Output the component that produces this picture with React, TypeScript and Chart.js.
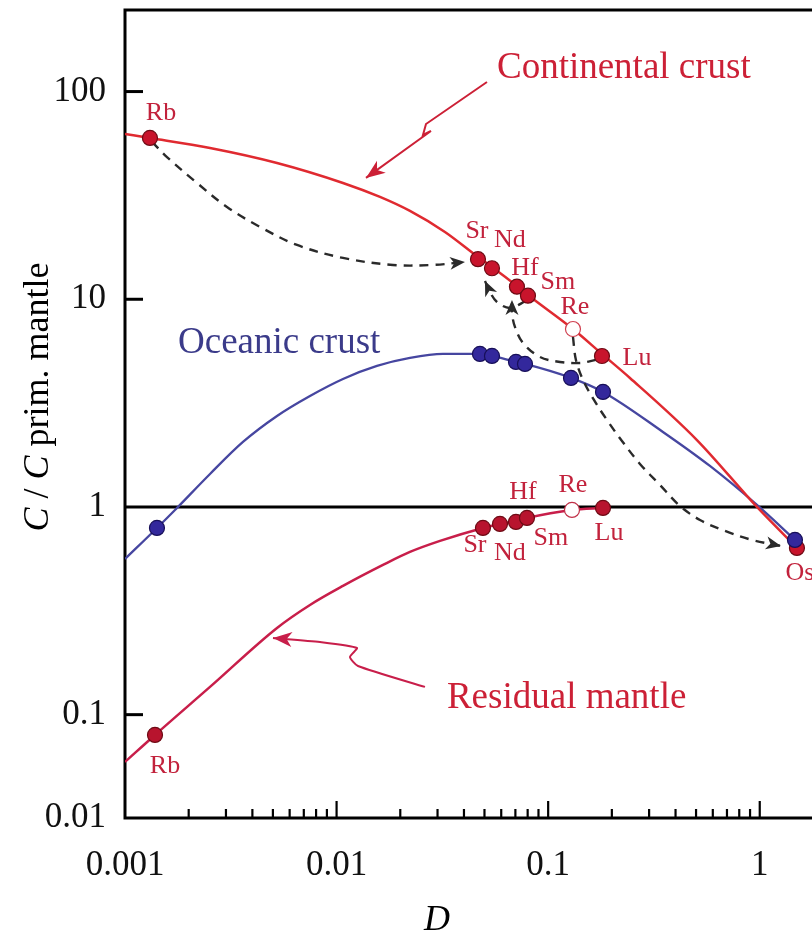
import React, { useEffect, useRef } from 'react';
import { Chart, registerables } from 'chart.js';

Chart.register(...registerables);

const SERIF = '"Liberation Serif", "Times New Roman", serif';

// ---------- axes ----------
const xMin = 0.001;
const xMax = 1.766;
const yMin = 0.0318; // bottom of the (truncated) axis, labelled "0.01" in the figure
const yMax = 247;
const xTickValues = [0.001, 0.01, 0.1, 1];
const xTickLabels = ['0.001', '0.01', '0.1', '1'];
const yTickValues = [0.0318, 0.1, 1, 10, 100];
const yTickLabels = ['0.01', '0.1', '1', '10', '100'];
const yMajorMarks = [0.1, 10, 100];
const xMajorMarks = [0.01, 0.1, 1];
const xMinorDecades = [0.001, 0.01, 0.1];
const xMinorMultipliers = [2, 3, 4, 5, 6, 7, 8, 9];
const referenceLine = 1;

// ---------- curves ----------
const contCurveD = [0.001, 0.001312, 0.002522, 0.00523, 0.01072, 0.01604, 0.02222, 0.03252, 0.04659, 0.05425, 0.0712, 0.08026, 0.131, 0.1796, 0.2435, 0.5049, 0.9701, 1.499];
const contCurveC = [62.5, 59.8, 53.5, 45.3, 36.3, 31.09, 26.62, 21.09, 15.99, 14.31, 11.59, 10.49, 7.19, 5.453, 4.179, 2.1, 1.0, 0.635];

const oceanCurveD = [0.001, 0.001416, 0.001723, 0.002522, 0.00361, 0.00523, 0.007486, 0.01072, 0.01552, 0.02222, 0.03183, 0.04761, 0.05425, 0.07045, 0.0777, 0.1282, 0.1816, 0.3487, 0.5815, 0.9701, 1.467];
const oceanCurveC = [0.5617, 0.7922, 0.9673, 1.442, 2.056, 2.743, 3.422, 4.133, 4.774, 5.216, 5.453, 5.453, 5.333, 4.99, 4.88, 4.18, 3.578, 2.297, 1.5755, 1.0224, 0.694];

const residCurveD = [0.001, 0.001386, 0.002522, 0.00523, 0.007486, 0.01072, 0.01657, 0.02222, 0.03082, 0.04918, 0.05919, 0.07045, 0.0794, 0.1296, 0.1816];
const residCurveC = [0.0592, 0.07985, 0.136, 0.2615, 0.3374, 0.4166, 0.5257, 0.6071, 0.6861, 0.7923, 0.8282, 0.8562, 0.8851, 0.9673, 0.989];

// ---------- element points ----------
const contElements = ['Rb', 'Sr', 'Nd', 'Hf', 'Sm', 'Re', 'Lu', 'Os'];
const contPointD = [0.001312, 0.04659, 0.05425, 0.0712, 0.08026, 0.131, 0.1796, 1.499];
const contPointC = [59.8, 15.6, 14.1, 11.5, 10.4, 7.19, 5.33, 0.635];

const oceanElements = ['Rb', 'Sr', 'Nd', 'Hf', 'Sm', 'Re', 'Lu', 'Os'];
const oceanPointD = [0.001416, 0.04761, 0.05425, 0.07045, 0.0777, 0.1282, 0.1816, 1.467];
const oceanPointC = [0.7922, 5.453, 5.333, 4.99, 4.88, 4.18, 3.578, 0.694];

const residElements = ['Rb', 'Sr', 'Nd', 'Hf', 'Sm', 'Re', 'Lu'];
const residPointD = [0.001386, 0.04918, 0.05919, 0.07045, 0.0794, 0.1296, 0.1816];
const residPointC = [0.07985, 0.7923, 0.8282, 0.8467, 0.8851, 0.9673, 0.989];

const openElement = 'Re';

// ---------- dashed parent -> daughter arrows ----------
const rbSrArrowD = [0.001342, 0.001579, 0.002189, 0.003034, 0.004345, 0.0065, 0.01072, 0.01847, 0.02855, 0.04044];
const rbSrArrowC = [57.2, 48.4, 36.3, 27.8, 22.3, 18.26, 15.81, 14.63, 14.63, 15.12];
const luHfArrowD = [0.1682, 0.1414, 0.1137, 0.09147, 0.07601, 0.06967, 0.06745, 0.06745];
const luHfArrowC = [5.104, 4.935, 4.99, 5.276, 6.16, 7.356, 8.59, 9.922];
const smNdArrowD = [0.07855, 0.06599, 0.05728, 0.05308, 0.05028];
const smNdArrowC = [9.813, 9.08, 9.705, 10.84, 12.25];
const reOsArrowD = [0.131, 0.1353, 0.1461, 0.1646, 0.1896, 0.2233, 0.2715, 0.3376, 0.4197, 0.5218, 0.6847, 0.9186, 1.2597];
const reOsArrowC = [6.584, 5.104, 4.088, 3.275, 2.624, 2.078, 1.611, 1.276, 1.011, 0.8658, 0.7665, 0.6937, 0.6491];

// ---------- label pointer arrows ----------
const contPointerD = [0.05139, 0.02646, 0.02561, 0.02793, 0.01377];
const contPointerC = [111.2, 69.8, 61.8, 64.6, 38.4];
const residPointerD = [0.02617, 0.01262, 0.01157, 0.01248, 0.008346, 0.005005];
const residPointerC = [0.136, 0.1716, 0.1896, 0.2095, 0.2239, 0.234];

// ---------- text ----------
const contLabelText = ['Rb', 'Sr', 'Nd', 'Hf', 'Sm', 'Re', 'Lu'];
const contLabelD = [0.00148, 0.04607, 0.06599, 0.0777, 0.1112, 0.1338, 0.2628];
const contLabelC = [78.9, 21.32, 19.3, 14.15, 12.12, 9.182, 5.216];
const residLabelText = ['Rb', 'Sr', 'Nd', 'Sm', 'Hf', 'Re', 'Lu', 'Os'];
const residLabelD = [0.001545, 0.04508, 0.06599, 0.1031, 0.07601, 0.131, 0.1938, 1.549];
const residLabelC = [0.05662, 0.6561, 0.6005, 0.709, 1.181, 1.276, 0.7495, 0.481];

const seriesTitles = ['Continental crust', 'Oceanic crust', 'Residual mantle'];
const seriesTitleD = [0.05728, 0.00178, 0.03323];
const seriesTitleC = [116.3, 5.514, 0.1077];

const xAxisTitle = 'D';
const yAxisTitleParts = [
  { text: 'C', italic: true },
  { text: ' / ', italic: false },
  { text: 'C', italic: true },
  { text: ' prim. mantle', italic: false },
];

// ---------- colours ----------
const RED_LINE = '#e02a30';
const BLUE_LINE = '#4646a0';
const CRIMSON_LINE = '#c81e4a';
const RED_FILL = '#c8142c';
const RED_EDGE = '#6e0a14';
const BLUE_FILL = '#33289c';
const BLUE_EDGE = '#170f58';
const LABEL_RED = '#c2223c';
const TITLE_RED = '#cc2036';
const TITLE_BLUE = '#3b3b8a';
const DASH = '#2a2a2a';

const zip = (xs: number[], ys: number[]) => xs.map((x, i) => ({ x, y: ys[i] }));

function arrowHead(ctx: CanvasRenderingContext2D, x0: number, y0: number, x1: number, y1: number, len: number, half: number, color: string) {
  const a = Math.atan2(y1 - y0, x1 - x0);
  ctx.save();
  ctx.translate(x1, y1);
  ctx.rotate(a);
  ctx.beginPath();
  ctx.moveTo(0, 0);
  ctx.lineTo(-len, -half);
  ctx.lineTo(-len * 0.72, 0);
  ctx.lineTo(-len, half);
  ctx.closePath();
  ctx.fillStyle = color;
  ctx.fill();
  ctx.restore();
}

const decorPlugin = {
  id: 'decor',
  beforeDatasetsDraw(chart: any) {
    const { ctx, chartArea, scales } = chart;
    const { left, right, top, bottom } = chartArea;
    const xs = scales.x;
    const ys = scales.y;
    ctx.save();
    ctx.strokeStyle = '#000';
    ctx.lineCap = 'butt';
    ctx.lineWidth = 3;
    ctx.beginPath();
    ctx.moveTo(left, top - 1.5);
    ctx.lineTo(left, bottom + 1.5);
    ctx.moveTo(left, top);
    ctx.lineTo(right, top);
    ctx.moveTo(left, bottom);
    ctx.lineTo(right, bottom);
    ctx.stroke();
    const yr = ys.getPixelForValue(referenceLine);
    ctx.beginPath();
    ctx.moveTo(left, yr);
    ctx.lineTo(right, yr);
    ctx.stroke();
    yMajorMarks.forEach((v) => {
      const y = ys.getPixelForValue(v);
      ctx.beginPath();
      ctx.moveTo(left, y);
      ctx.lineTo(left + 18, y);
      ctx.stroke();
    });
    ctx.lineWidth = 2.2;
    xMinorDecades.forEach((d) => {
      xMinorMultipliers.forEach((m) => {
        const x = xs.getPixelForValue(d * m);
        ctx.beginPath();
        ctx.moveTo(x, bottom);
        ctx.lineTo(x, bottom - 9);
        ctx.stroke();
      });
    });
    xMajorMarks.forEach((v) => {
      const x = xs.getPixelForValue(v);
      ctx.beginPath();
      ctx.moveTo(x, bottom);
      ctx.lineTo(x, bottom - 17);
      ctx.stroke();
    });
    ctx.restore();
  },
  afterDatasetsDraw(chart: any) {
    const { ctx, scales } = chart;
    const xs = scales.x;
    const ys = scales.y;
    ctx.save();
    chart.data.datasets.forEach((ds: any, i: number) => {
      if (!ds.arrowHead) return;
      const pts = chart.getDatasetMeta(i).data;
      const n = pts.length;
      const a = pts[n - 2];
      const b = pts[n - 1];
      arrowHead(ctx, a.x, a.y, b.x, b.y, ds.arrowHead[0], ds.arrowHead[1], ds.borderColor);
    });
    ctx.font = `26px ${SERIF}`;
    ctx.fillStyle = LABEL_RED;
    ctx.textAlign = 'center';
    ctx.textBaseline = 'middle';
    contLabelText.forEach((t, i) => {
      ctx.fillText(t, xs.getPixelForValue(contLabelD[i]), ys.getPixelForValue(contLabelC[i]));
    });
    residLabelText.forEach((t, i) => {
      ctx.fillText(t, xs.getPixelForValue(residLabelD[i]), ys.getPixelForValue(residLabelC[i]));
    });
    ctx.textAlign = 'left';
    ctx.textBaseline = 'alphabetic';
    const titleColors = [TITLE_RED, TITLE_BLUE, TITLE_RED];
    seriesTitles.forEach((t, i) => {
      ctx.font = `37px ${SERIF}`;
      ctx.fillStyle = titleColors[i];
      ctx.fillText(t, xs.getPixelForValue(seriesTitleD[i]), ys.getPixelForValue(seriesTitleC[i]));
    });
    ctx.fillStyle = '#000';
    ctx.font = `italic 36px ${SERIF}`;
    ctx.textAlign = 'center';
    ctx.fillText(xAxisTitle, 437, 930);
    ctx.save();
    ctx.translate(48, 397);
    ctx.rotate(-Math.PI / 2);
    const fontOf = (it: boolean) => `${it ? 'italic ' : ''}36px ${SERIF}`;
    let total = 0;
    yAxisTitleParts.forEach((p) => {
      ctx.font = fontOf(p.italic);
      total += ctx.measureText(p.text).width;
    });
    let cx = -total / 2;
    ctx.textAlign = 'left';
    yAxisTitleParts.forEach((p) => {
      ctx.font = fontOf(p.italic);
      ctx.fillText(p.text, cx, 0);
      cx += ctx.measureText(p.text).width;
    });
    ctx.restore();
    ctx.restore();
  },
};

export default function App() {
  const ref = useRef<HTMLCanvasElement | null>(null);
  useEffect(() => {
    if (!ref.current) return;
    const fills = (els: string[], fill: string, open: boolean) => els.map((e) => (open && e === openElement ? '#ffffff' : fill));
    const chart = new Chart(ref.current, {
      type: 'scatter',
      data: {
        datasets: [
          {
            label: 'Oceanic crust points',
            data: zip(oceanPointD, oceanPointC),
            backgroundColor: fills(oceanElements, BLUE_FILL, false),
            borderColor: BLUE_EDGE,
            borderWidth: 1.2,
            pointRadius: 7.5,
            order: 0,
          },
          {
            label: 'Continental crust points',
            data: zip(contPointD, contPointC),
            backgroundColor: fills(contElements, RED_FILL, true),
            borderColor: contElements.map((e) => (e === openElement ? '#d04050' : RED_EDGE)),
            borderWidth: 1.2,
            pointRadius: 7.5,
            order: 1,
          },
          {
            label: 'Residual mantle points',
            data: zip(residPointD, residPointC),
            backgroundColor: fills(residElements, '#b8142e', true),
            borderColor: residElements.map((e) => (e === openElement ? '#c03048' : RED_EDGE)),
            borderWidth: 1.2,
            pointRadius: 7.5,
            order: 1,
          },
          ...[
            [rbSrArrowD, rbSrArrowC],
            [luHfArrowD, luHfArrowC],
            [smNdArrowD, smNdArrowC],
            [reOsArrowD, reOsArrowC],
          ].map(([d, c], i) => ({
            label: `arrow ${i}`,
            data: zip(d, c),
            showLine: true,
            borderColor: DASH,
            borderWidth: 2.4,
            borderDash: [9, 7],
            pointRadius: 0,
            tension: 0.35,
            order: 2,
            arrowHead: [15, 6.5],
          })),
          {
            label: 'Continental crust',
            data: zip(contCurveD, contCurveC),
            showLine: true,
            borderColor: RED_LINE,
            borderWidth: 2.5,
            pointRadius: 0,
            cubicInterpolationMode: 'monotone',
            order: 3,
          },
          {
            label: 'Oceanic crust',
            data: zip(oceanCurveD, oceanCurveC),
            showLine: true,
            borderColor: BLUE_LINE,
            borderWidth: 2.3,
            pointRadius: 0,
            cubicInterpolationMode: 'monotone',
            order: 3,
          },
          {
            label: 'Residual mantle',
            data: zip(residCurveD, residCurveC),
            showLine: true,
            borderColor: CRIMSON_LINE,
            borderWidth: 2.5,
            pointRadius: 0,
            cubicInterpolationMode: 'monotone',
            order: 3,
          },
          {
            label: 'continental pointer',
            data: zip(contPointerD, contPointerC),
            showLine: true,
            borderColor: TITLE_RED,
            borderWidth: 2,
            pointRadius: 0,
            tension: 0,
            order: 3,
            arrowHead: [19, 7.5],
          },
          {
            label: 'residual pointer',
            data: zip(residPointerD, residPointerC),
            showLine: true,
            borderColor: CRIMSON_LINE,
            borderWidth: 2,
            pointRadius: 0,
            tension: 0.2,
            order: 3,
            arrowHead: [19, 7.5],
          },
        ] as any,
      },
      options: {
        responsive: false,
        animation: false,
        events: [],
        layout: { autoPadding: false, padding: { left: 44, top: 10, right: 0, bottom: 0 } },
        plugins: { legend: { display: false }, tooltip: { enabled: false } },
        scales: {
          x: {
            type: 'logarithmic',
            position: 'bottom',
            min: xMin,
            max: xMax,
            grid: { display: false, drawTicks: false },
            border: { display: false },
            afterBuildTicks: (s: any) => {
              s.ticks = xTickValues.map((v) => ({ value: v }));
            },
            afterFit: (s: any) => {
              s.height = 112;
              s.paddingLeft = 0;
              s.paddingRight = 0;
              s.paddingTop = 0;
              s.paddingBottom = 0;
            },
            ticks: {
              autoSkip: false,
              maxRotation: 0,
              minRotation: 0,
              padding: 27,
              color: '#111',
              font: { family: SERIF, size: 35 },
              callback: (_v: any, i: number) => xTickLabels[i],
            },
          },
          y: {
            type: 'logarithmic',
            position: 'left',
            min: yMin,
            max: yMax,
            grid: { display: false, drawTicks: false },
            border: { display: false },
            afterBuildTicks: (s: any) => {
              s.ticks = yTickValues.map((v) => ({ value: v }));
            },
            afterFit: (s: any) => {
              s.width = 81;
              s.paddingLeft = 0;
              s.paddingRight = 0;
              s.paddingTop = 0;
              s.paddingBottom = 0;
            },
            ticks: {
              autoSkip: false,
              padding: 19,
              color: '#111',
              font: { family: SERIF, size: 35 },
              callback: (_v: any, i: number) => yTickLabels[i],
            },
          },
        } as any,
      },
      plugins: [decorPlugin],
    });
    return () => chart.destroy();
  }, []);
  return (
    <div style={{ position: 'absolute', left: 0, top: 0, width: 812, height: 930, background: '#fff' }}>
      <canvas ref={ref} width={812} height={930} style={{ display: 'block' }} />
    </div>
  );
}
